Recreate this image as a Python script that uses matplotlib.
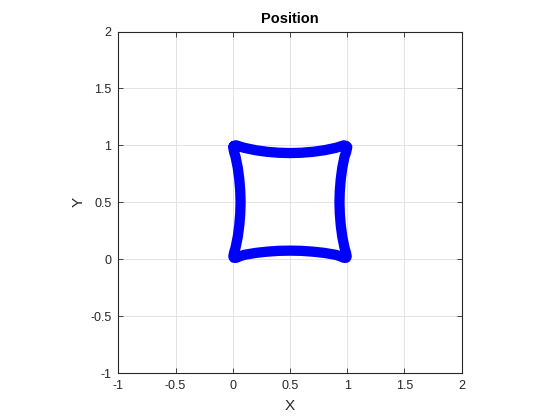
import matplotlib
matplotlib.use("Agg")
import matplotlib.pyplot as plt

# traced outline of the position curve (closed loop)
x_pos = [0.01, 0.03, 0.06, 0.10, 0.20, 0.30, 0.40, 0.50, 0.60, 0.70, 0.80, 0.90, 0.94, 0.97,
         0.99, 1.00,
         0.99, 0.976, 0.956, 0.943, 0.935, 0.932, 0.935, 0.943, 0.956, 0.976, 0.988,
         0.995, 0.99,
         0.97, 0.94, 0.90, 0.80, 0.70, 0.60, 0.50, 0.40, 0.30, 0.20, 0.10, 0.06, 0.03,
         0.01, 0.005,
         0.012, 0.024, 0.044, 0.057, 0.065, 0.068, 0.065, 0.057, 0.044, 0.024, 0.012,
         0.003, 0.01]
y_pos = [0.995, 1.00, 0.99, 0.978, 0.957, 0.943, 0.935, 0.932, 0.935, 0.943, 0.957, 0.978, 0.99, 1.00,
         0.995, 0.985,
         0.94, 0.90, 0.80, 0.70, 0.60, 0.50, 0.40, 0.30, 0.20, 0.10, 0.06,
         0.025, 0.012,
         0.012, 0.025, 0.038, 0.055, 0.066, 0.073, 0.075, 0.073, 0.066, 0.055, 0.038, 0.025, 0.012,
         0.012, 0.025,
         0.06, 0.10, 0.20, 0.30, 0.40, 0.50, 0.60, 0.70, 0.80, 0.90, 0.94,
         0.985, 0.995]

ticks = [-1, -0.5, 0, 0.5, 1, 1.5, 2]
tick_labels = ['-1', '-0.5', '0', '0.5', '1', '1.5', '2']

plt.rcParams['font.family'] = ['Liberation Sans', 'DejaVu Sans']

fig = plt.figure(figsize=(5.6, 4.2), dpi=100)
ax = fig.add_axes([0.2113, 0.1119, 0.6132, 0.8131])

ax.plot(x_pos, y_pos, color=(0, 0, 1), lw=7.4, solid_joinstyle='round',
        solid_capstyle='round')

ax.set_xlim(-1, 2)
ax.set_ylim(-1, 2)
ax.set_xticks(ticks)
ax.set_xticklabels(tick_labels)
ax.set_yticks(ticks)
ax.set_yticklabels(tick_labels)
ax.grid(True, color='#dedede', lw=0.6)
ax.set_axisbelow(True)

for s in ax.spines.values():
    s.set_color('#262626')
    s.set_linewidth(0.8)
ax.tick_params(direction='in', length=3.5, width=0.6, colors='#262626',
               labelsize=9, top=True, right=True, pad=5)

ax.set_title('Position', fontsize=10.5, fontweight='bold', pad=6)
ax.set_xlabel('X', fontsize=11, color='#262626', labelpad=5)
ax.set_ylabel('Y', fontsize=11, color='#262626', labelpad=3)

plt.savefig('out.png', dpi=100)
